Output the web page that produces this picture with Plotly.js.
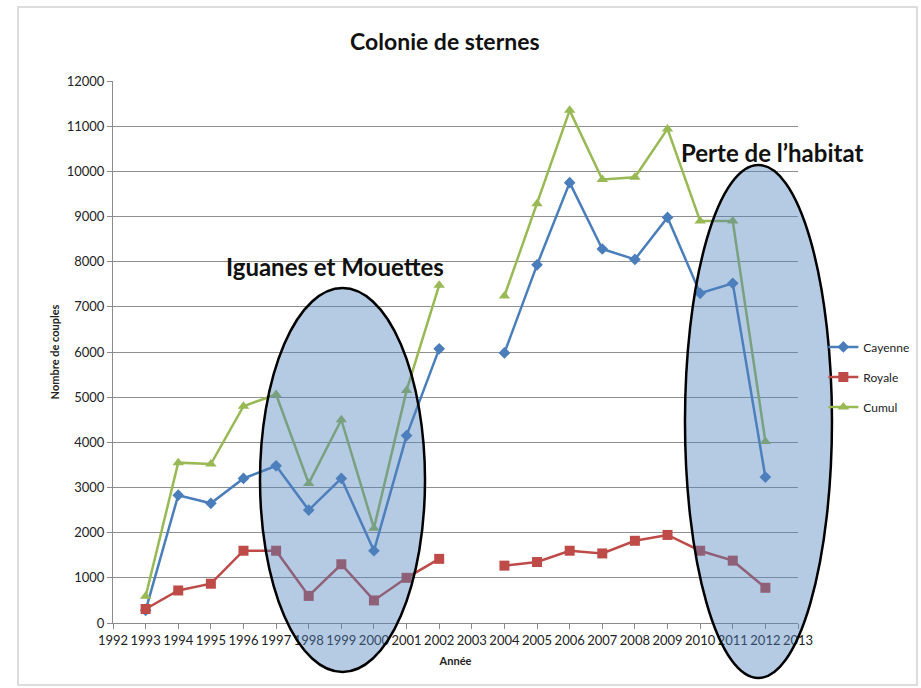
<!DOCTYPE html>
<html>
<head>
<meta charset="utf-8">
<script src="https://cdn.plot.ly/plotly-3.0.1.min.js"></script>
<style>html,body{margin:0;padding:0;background:#fff;}#chart{width:921px;height:688px;}</style>
</head>
<body>
<div id="chart"></div>
<script>
// Data
const years   = [1993, 1994, 1995, 1996, 1997, 1998, 1999, 2000, 2001, 2002, 2003, 2004, 2005, 2006, 2007, 2008, 2009, 2010, 2011, 2012];
const cayenne = [280, 2830, 2650, 3200, 3480, 2500, 3200, 1600, 4150, 6070, null, 5980, 7930, 9750, 8280, 8050, 8980, 7300, 7520, 3230];
const royale  = [310, 720, 870, 1600, 1600, 600, 1300, 500, 1000, 1420, null, 1270, 1350, 1600, 1540, 1820, 1950, 1600, 1380, 780];
const cumul   = [590, 3550, 3520, 4800, 5060, 3090, 4500, 2100, 5150, 7480, null, 7240, 9280, 11350, 9820, 9870, 10940, 8900, 8900, 4020];
const seriesNames = ['Cayenne', 'Royale', 'Cumul'];
const tickYears = [1992, 1993, 1994, 1995, 1996, 1997, 1998, 1999, 2000, 2001, 2002, 2003, 2004, 2005, 2006, 2007, 2008, 2009, 2010, 2011, 2012, 2013];

const FONT = 'Lato, "Liberation Sans", sans-serif';
const colors = ['#4A7EBB', '#BE4B48', '#98B954'];
const symbols = ['diamond', 'square', 'triangle-up'];
const sizes = [9, 10, 10];
const values = [cayenne, royale, cumul];

const traces = seriesNames.map((name, i) => ({
  type: 'scatter',
  mode: 'lines+markers',
  name: name,
  legendgroup: 'g' + i,
  x: years,
  y: values[i],
  connectgaps: false,
  line: {color: colors[i], width: 2.5},
  marker: {symbol: symbols[i], size: sizes[i], color: colors[i]}
}));

const layout = {
  width: 921,
  height: 688,
  margin: {l: 113, r: 123, t: 81, b: 65, autoexpand: false},
  paper_bgcolor: '#ffffff',
  plot_bgcolor: '#ffffff',
  font: {family: FONT, color: '#222'},
  showlegend: true,
  title: {
    text: '<b>Colonie de sternes</b>',
    font: {family: FONT, size: 23, color: '#111'},
    x: 0.483, xanchor: 'center',
    y: 0.939, yanchor: 'middle'
  },
  legend: {
    x: 1.037, xanchor: 'left',
    y: 0.454, yanchor: 'middle',
    font: {family: FONT, size: 12, color: '#222'},
    traceorder: 'grouped',
    tracegroupgap: 11,
    bgcolor: 'rgba(0,0,0,0)',
    itemwidth: 30
  },
  xaxis: {
    range: [1992, 2013],
    tickmode: 'array',
    tickvals: tickYears,
    ticktext: tickYears.map(String),
    ticks: 'outside',
    ticklen: 5,
    tickcolor: '#8a8a8a',
    showline: true,
    linecolor: '#8a8a8a',
    linewidth: 1,
    showgrid: false,
    zeroline: false,
    tickangle: 0,
    automargin: false,
    tickfont: {family: FONT, size: 13, color: '#222'},
    title: {text: '<b>Année</b>', font: {family: FONT, size: 11, color: '#222'}, standoff: 10}
  },
  yaxis: {
    range: [0, 12000],
    dtick: 1000,
    tickformat: 'd',
    ticks: 'outside',
    ticklen: 5,
    tickcolor: '#8a8a8a',
    showline: true,
    linecolor: '#8a8a8a',
    linewidth: 1,
    showgrid: true,
    gridcolor: '#8f8f8f',
    gridwidth: 1,
    zeroline: false,
    automargin: false,
    tickfont: {family: FONT, size: 13, color: '#222'},
    title: {text: '<b>Nombre de couples</b>', font: {family: FONT, size: 11, color: '#222'}, standoff: 4}
  },
  shapes: [
    {type: 'rect', xref: 'paper', yref: 'paper', x0: -0.1387, x1: 1.1737, y0: -0.1144, y1: 1.1365,
     line: {color: '#d2d2d2', width: 1.5}, fillcolor: 'rgba(0,0,0,0)', layer: 'below'},
    {type: 'circle', xref: 'paper', yref: 'paper', x0: 0.2146, x1: 0.4555, y0: -0.0904, y1: 0.618,
     line: {color: '#000', width: 2.5}, fillcolor: 'rgba(79,129,189,0.42)', layer: 'above'},
    {type: 'circle', xref: 'paper', yref: 'paper', x0: 0.835, x1: 1.0496, y0: -0.1015, y1: 0.845,
     line: {color: '#000', width: 2.5}, fillcolor: 'rgba(79,129,189,0.42)', layer: 'above'}
  ],
  annotations: [
    {text: '<b>Iguanes et Mouettes</b>', xref: 'paper', yref: 'paper', x: 0.324, y: 0.657,
     xanchor: 'center', yanchor: 'middle', showarrow: false,
     font: {family: FONT, size: 24, color: '#111'}},
    {text: '<b>Perte de l’habitat</b>', xref: 'paper', yref: 'paper', x: 0.962, y: 0.869,
     xanchor: 'center', yanchor: 'middle', showarrow: false,
     font: {family: FONT, size: 24, color: '#111'}}
  ]
};

Plotly.newPlot('chart', traces, layout, {displayModeBar: false, responsive: false});
</script>
</body>
</html>
